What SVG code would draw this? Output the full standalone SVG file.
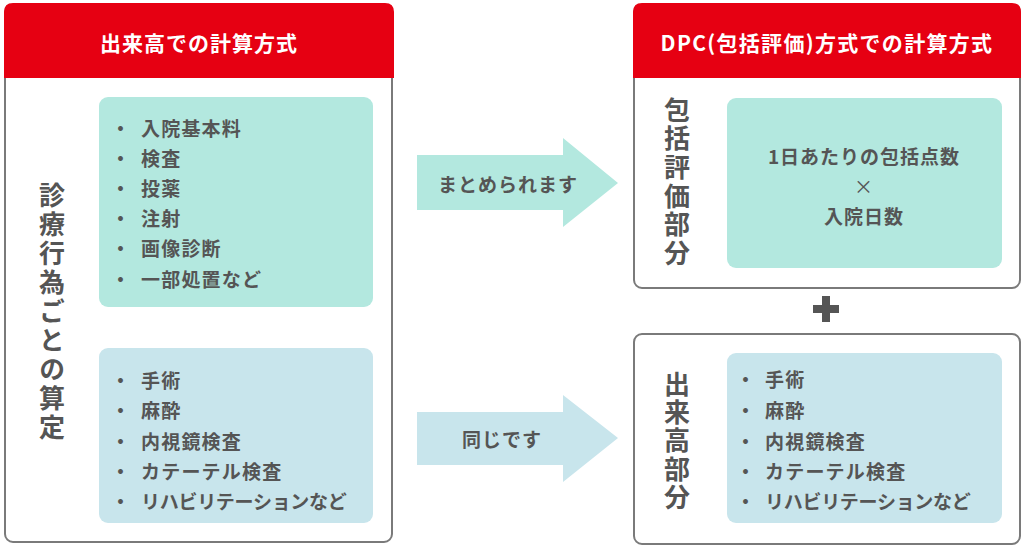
<svg xmlns="http://www.w3.org/2000/svg" width="1024" height="553" viewBox="0 0 1024 553">
<style>
text{font-family:"Noto Sans CJK JP","Noto Sans",sans-serif;font-weight:700;fill:#555;dominant-baseline:central}
.panel{fill:#fff;stroke:#7a7a7a;stroke-width:2}
.hdr{fill:#e60012}
.htxt{fill:#fff;font-size:21px;letter-spacing:1px;text-anchor:middle}
.mint{fill:#b3e8df}
.blue{fill:#c8e5ec}
.li{font-size:19px;letter-spacing:1.2px}
.vt{font-size:26px;writing-mode:vertical-rl;text-anchor:start}
.ctr{font-size:19px;text-anchor:middle;letter-spacing:1px}
</style>
<g id="left-panel">
<rect class="panel" x="5" y="5" width="387" height="537" rx="8"/>
<path class="hdr" d="M4 78 V12 Q4 3 13 3 H385 Q394 3 394 12 V78 Z"/>
<text class="htxt" x="199" y="42">出来高での計算方式</text>
<text class="vt" x="52" y="182" style="letter-spacing:3px">診療行為ごとの算定</text>
</g>
<g id="left-mint">
<rect class="mint" x="99" y="97" width="274" height="210" rx="9"/>
<text class="li"><tspan x="111" y="127">・</tspan><tspan x="141" y="127">入院基本料</tspan></text>
<text class="li"><tspan x="111" y="157">・</tspan><tspan x="141" y="157">検査</tspan></text>
<text class="li"><tspan x="111" y="187">・</tspan><tspan x="141" y="187">投薬</tspan></text>
<text class="li"><tspan x="111" y="217">・</tspan><tspan x="141" y="217">注射</tspan></text>
<text class="li"><tspan x="111" y="247">・</tspan><tspan x="141" y="247">画像診断</tspan></text>
<text class="li"><tspan x="111" y="278">・</tspan><tspan x="141" y="278">一部処置など</tspan></text>
</g>
<g id="left-blue">
<rect class="blue" x="99" y="348" width="274" height="175" rx="9"/>
<text class="li"><tspan x="111" y="379">・</tspan><tspan x="141" y="379">手術</tspan></text>
<text class="li"><tspan x="111" y="409">・</tspan><tspan x="141" y="409">麻酔</tspan></text>
<text class="li"><tspan x="111" y="440">・</tspan><tspan x="141" y="440">内視鏡検査</tspan></text>
<text class="li"><tspan x="111" y="470">・</tspan><tspan x="141" y="470">カテーテル検査</tspan></text>
<text class="li"><tspan x="111" y="500">・</tspan><tspan x="141" y="500" textLength="207" lengthAdjust="spacing">リハビリテーションなど</tspan></text>
</g>
<g id="connectors">
<path class="mint" d="M417 155 H563 V138 L618 183 L563 227 V210 H417 Z"/>
<text class="ctr" x="508" y="183">まとめられます</text>
<path class="blue" d="M417 412 H563 V395 L618 438 L563 482 V465 H417 Z"/>
<text class="ctr" x="502" y="438">同じです</text>
</g>
<g id="right-top-panel">
<rect class="panel" x="634" y="5" width="386" height="283" rx="8"/>
<path class="hdr" d="M633 78 V12 Q633 3 642 3 H1012 Q1021 3 1021 12 V78 Z"/>
<text class="htxt" x="827" y="42" style="letter-spacing:1.3px">DPC(包括評価)方式での計算方式</text>
<text class="vt" x="677" y="97" style="letter-spacing:2.6px">包括評価部分</text>
<rect class="mint" x="727" y="98" width="275" height="170" rx="9"/>
<text class="ctr" x="864" y="155">1日あたりの包括点数</text>
<text class="ctr" x="864" y="185" style="font-weight:400">×</text>
<text class="ctr" x="864" y="215">入院日数</text>
</g>
<g id="plus">
<path d="M822 296 h8 v9 h9 v8 h-9 v9 h-8 v-9 h-9 v-8 h9 Z" fill="#555"/>
</g>
<g id="right-bottom-panel">
<rect class="panel" x="634" y="334" width="386" height="210" rx="8"/>
<text class="vt" x="677" y="371" style="letter-spacing:2.3px">出来高部分</text>
<rect class="blue" x="727" y="353" width="275" height="170" rx="9"/>
<text class="li"><tspan x="736" y="378">・</tspan><tspan x="765" y="378">手術</tspan></text>
<text class="li"><tspan x="736" y="409">・</tspan><tspan x="765" y="409">麻酔</tspan></text>
<text class="li"><tspan x="736" y="440">・</tspan><tspan x="765" y="440">内視鏡検査</tspan></text>
<text class="li"><tspan x="736" y="470">・</tspan><tspan x="765" y="470">カテーテル検査</tspan></text>
<text class="li"><tspan x="736" y="500">・</tspan><tspan x="765" y="500" textLength="207" lengthAdjust="spacing">リハビリテーションなど</tspan></text>
</g>
</svg>
